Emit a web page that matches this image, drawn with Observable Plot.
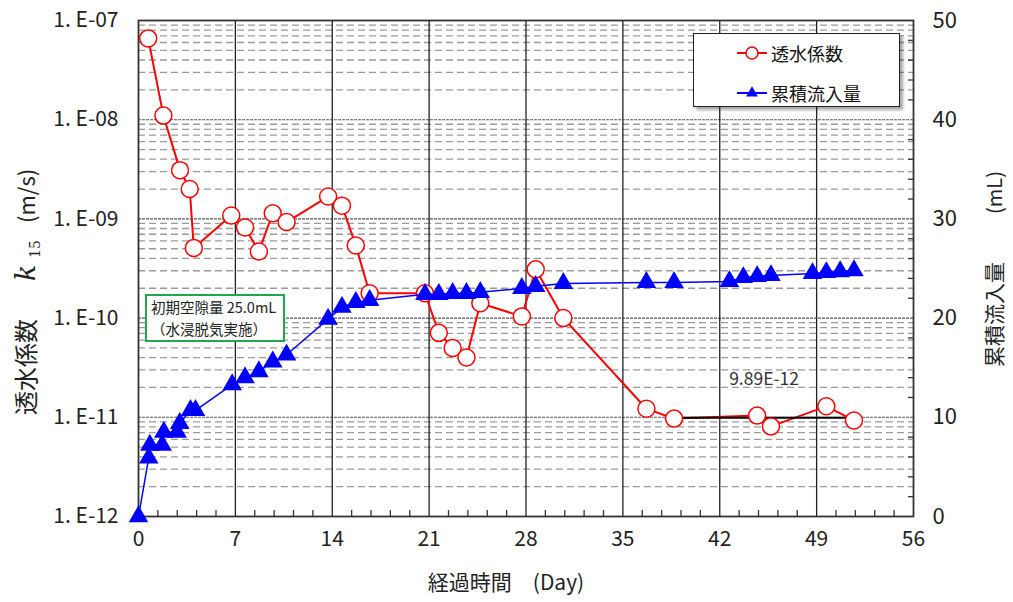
<!DOCTYPE html>
<html>
<head>
<meta charset="utf-8">
<script src="https://cdn.jsdelivr.net/npm/d3@7"></script>
<script src="https://cdn.jsdelivr.net/npm/@observablehq/plot@0.6"></script>
<style>
  body { margin: 0; background: #fff; }
  #chart { position: relative; width: 1013px; height: 602px; font-family: "Noto Sans CJK JP", "Noto Sans", sans-serif; }
  .legend { position: absolute; left: 693px; top: 33px; width: 207px; height: 74px; box-sizing: border-box;
            border: 1.5px solid #222; background: #fff; box-shadow: 3px 3px 3px rgba(0,0,0,0.35); font-size: 18px; color: #111; }
  .legend .row { position: absolute; left: 43px; display: flex; align-items: center; height: 24px; }
  .legend svg { margin-right: 4px; }
  .note { position: absolute; left: 145px; top: 294px; width: 140px; height: 48px; box-sizing: border-box;
          border: 2px solid #1fa84f; background: #fff; font-size: 14.5px; line-height: 22px; padding: 0 0 0 4px; color: #222; white-space: nowrap; }
</style>
</head>
<body>
<div id="chart"></div>
<script>
// ---- data ----
const kDays = [0.7, 1.8, 3.0, 3.7, 4.0, 6.7, 7.7, 8.7, 9.7, 10.7, 13.7, 14.7, 15.7, 16.7, 20.7, 21.7, 22.7, 23.7, 24.7, 27.7, 28.7, 30.7, 36.7, 38.7, 44.7, 45.7, 49.7, 51.7];
const kValues = [6.6e-8, 1.1e-8, 3.1e-9, 2.0e-9, 5.1e-10, 1.08e-9, 8.2e-10, 4.7e-10, 1.14e-9, 9.3e-10, 1.68e-9, 1.36e-9, 5.4e-10, 1.78e-10, 1.78e-10, 7.1e-11, 5.0e-11, 4.0e-11, 1.41e-10, 1.04e-10, 3.1e-10, 1.0e-10, 1.22e-11, 9.7e-12, 1.04e-11, 8.1e-12, 1.29e-11, 9.3e-12];
const qDays = [0, 0.74, 0.82, 1.71, 1.83, 2.79, 2.98, 3.76, 4.12, 6.77, 7.7, 8.7, 9.7, 10.7, 13.7, 14.7, 15.7, 16.7, 20.7, 21.7, 22.7, 23.7, 24.7, 27.7, 28.7, 30.7, 36.7, 38.7, 42.7, 43.7, 44.7, 45.7, 48.7, 49.7, 50.7, 51.7];
const qValues = [0, 5.9, 7.2, 7.2, 8.5, 8.5, 9.4, 10.7, 10.7, 13.3, 14.0, 14.6, 15.6, 16.3, 19.9, 21.1, 21.6, 21.8, 22.4, 22.4, 22.5, 22.5, 22.6, 23.0, 23.2, 23.5, 23.6, 23.6, 23.7, 24.1, 24.2, 24.3, 24.5, 24.6, 24.7, 24.8];
const avgValue = 9.89e-12, avgStart = 38.7, avgEnd = 51.7, avgLabel = "9.89E-12";
const xTicks = [0, 7, 14, 21, 28, 35, 42, 49, 56];
const xMinor = d3.range(1, 40).map(i => i * 1.4).filter(v => v < 56 && Math.abs(v / 7 - Math.round(v / 7)) > 1e-6);
const decades = [1e-12, 1e-11, 1e-10, 1e-9, 1e-8, 1e-7];
const mlTicks = [0, 10, 20, 30, 40, 50];
const mlMinor = d3.range(2, 50, 2).filter(v => v % 10 !== 0);
const seriesNames = ["透水係数", "累積流入量"];
const seriesColors = ["#ff0000", "#0000ff"];
const xLabel = "経過時間　(Day)";
const rightLabelMain = "累積流入量", rightLabelUnit = "(mL)";
const leftLabelMain = "透水係数", leftLabelSym = "k", leftLabelSub = "15", leftLabelUnit = "(m/s)";
const noteLines = ["初期空隙量 25.0mL", "（水浸脱気実施）"];

// ---- helpers ----
const ml2y = v => Math.pow(10, -12 + v / 10);       // map right axis (mL) onto log left axis
const y2ml = d => Math.round((Math.log10(d) + 12) * 10);
const minorGrid = [];
for (let e = -12; e < -7; e++) for (let m = 2; m <= 9; m++) minorGrid.push(m * Math.pow(10, e));

const kData = kDays.map((d, i) => ({day: d, k: kValues[i]}));
const qData = qDays.map((d, i) => ({day: d, ml: qValues[i]}));

const plot = Plot.plot({
  width: 1013, height: 602,
  marginLeft: 138, marginRight: 100, marginTop: 20, marginBottom: 86,
  style: {fontFamily: '"Noto Sans CJK JP", "Noto Sans", sans-serif', color: "#222", background: "#fff"},
  x: {domain: [0, 56]},
  y: {type: "log", domain: [1e-12, 1e-7]},
  marks: [
    Plot.ruleY(minorGrid, {stroke: "#9a9a9a", strokeWidth: 1.3, strokeDasharray: "7,4"}),
    Plot.ruleY(decades, {stroke: "#555", strokeWidth: 1.1, strokeDasharray: "3,1"}),
    Plot.ruleX(xTicks.slice(1, -1), {stroke: "#222", strokeWidth: 1.3}),
    Plot.frame({stroke: "#333", strokeWidth: 1.8}),
    Plot.axisY(decades, {anchor: "left", tickSize: 0, tickPadding: 20, fontSize: 21, label: null,
      tickFormat: d => "1. E-" + String(-Math.round(Math.log10(d))).padStart(2, "0")}),
    Plot.axisY(mlTicks.map(ml2y), {anchor: "right", tickSize: 0, tickPadding: 19, fontSize: 22, label: null,
      tickFormat: d => String(y2ml(d))}),
    Plot.axisY(mlMinor.map(ml2y), {anchor: "right", tickSize: -6, tickFormat: () => "", label: null, stroke: "#333", strokeWidth: 1.3}),
    Plot.axisX(xTicks, {anchor: "bottom", tickSize: 0, tickPadding: 15, fontSize: 21, label: null}),
    Plot.axisX(xMinor, {anchor: "bottom", tickSize: -6, tickFormat: () => "", label: null, stroke: "#333", strokeWidth: 1.3}),
    Plot.line(kData, {x: "day", y: "k", stroke: seriesColors[0], strokeWidth: 2}),
    Plot.ruleY([avgValue], {x1: avgStart, x2: avgEnd, stroke: "#000", strokeWidth: 2}),
    Plot.dot(kData, {x: "day", y: "k", r: 8.5, fill: "#fff", stroke: seriesColors[0], strokeWidth: 1.5}),
    Plot.line(qData, {x: "day", y: d => ml2y(d.ml), stroke: seriesColors[1], strokeWidth: 1.5}),
    Plot.dot(qData, {x: "day", y: d => ml2y(d.ml), symbol: "triangle", r: 6.3, fill: seriesColors[1], stroke: seriesColors[1]}),
    Plot.text([avgLabel], {x: (avgStart + avgEnd) / 2, y: avgValue, dy: -38, fontSize: 17.5, fill: "#333"})
  ]
});

const chart = document.getElementById("chart");
chart.appendChild(plot);

// axis titles
const svg = d3.select(plot);
const ff = '"Noto Sans CJK JP", "Noto Sans", sans-serif';
const lt = svg.append("text").attr("transform", "translate(35,415) rotate(-90)")
  .attr("text-anchor", "start").attr("font-size", 24).attr("fill", "#222").attr("font-family", ff);
lt.append("tspan").attr("x", 0).text(leftLabelMain);
lt.append("tspan").attr("x", 134).attr("font-family", '"DejaVu Serif", serif').attr("font-style", "italic").attr("font-size", 27).text(leftLabelSym);
lt.append("tspan").attr("x", 157).attr("dy", 5).attr("font-family", '"DejaVu Serif", serif').attr("font-size", 14).text(leftLabelSub);
lt.append("tspan").attr("x", 192).attr("dy", -5).attr("font-size", 22).text(leftLabelUnit);

const rt = svg.append("text").attr("transform", "translate(1002,367) rotate(-90)")
  .attr("text-anchor", "start").attr("font-size", 21).attr("fill", "#222").attr("font-family", ff);
rt.append("tspan").attr("x", 0).text(rightLabelMain);
rt.append("tspan").attr("x", 153).attr("font-size", 20).text(rightLabelUnit);

svg.append("text").attr("x", 506).attr("y", 590)
  .attr("text-anchor", "middle").attr("font-size", 21).attr("fill", "#222").attr("font-family", ff).text(xLabel);

// legend
const legend = document.createElement("div");
legend.className = "legend";
seriesNames.forEach((name, i) => {
  const row = document.createElement("div");
  row.className = "row";
  row.style.top = (i === 0 ? 7 : 47) + "px";
  const sym = i === 0
    ? `<circle cx="15" cy="12" r="6" fill="#fff" stroke="${seriesColors[0]}" stroke-width="1.5"/>`
    : `<path d="${d3.symbol(d3.symbolTriangle, 60)()}" transform="translate(15,12)" fill="${seriesColors[1]}"/>`;
  row.innerHTML = `<svg width="30" height="24"><line x1="0" y1="12" x2="30" y2="12" stroke="${seriesColors[i]}" stroke-width="2"/>${sym}</svg><span>${name}</span>`;
  legend.appendChild(row);
});
chart.appendChild(legend);

// note box
const note = document.createElement("div");
note.className = "note";
note.innerHTML = noteLines.join("<br>");
chart.appendChild(note);
</script>
</body>
</html>
